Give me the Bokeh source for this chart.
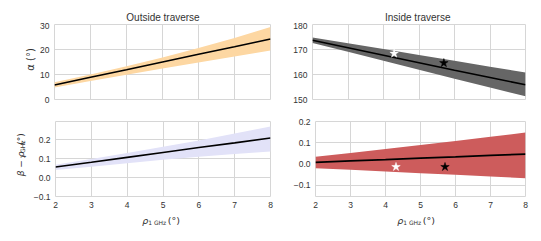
import math
from bokeh.plotting import figure
from bokeh.layouts import column, row
from bokeh.models import Range1d, FixedTicker, Label
from bokeh.embed import file_html
from bokeh.resources import INLINE

# ---------------- data ----------------
rho = [2, 3, 4, 5, 6, 7, 8]
xticks = [2, 3, 4, 5, 6, 7, 8]

# Outside traverse: alpha
out_alpha = [5.8, 8.9, 11.9, 15.0, 18.1, 21.1, 24.2]
out_alpha_hi = [6.9, 10.0, 13.3, 16.8, 20.6, 24.6, 29.0]
out_alpha_lo = [4.8, 7.4, 9.9, 12.4, 14.8, 17.2, 19.6]

# Outside traverse: beta - rho
out_beta = [0.056, 0.081, 0.107, 0.133, 0.159, 0.184, 0.210]
out_beta_hi = [0.068, 0.098, 0.130, 0.163, 0.197, 0.233, 0.270]
out_beta_lo = [0.040, 0.058, 0.076, 0.094, 0.111, 0.125, 0.138]

# Inside traverse: alpha
in_alpha = [173.7, 170.7, 167.7, 164.7, 161.7, 158.8, 155.9]
in_alpha_hi = [174.8, 172.5, 170.2, 167.8, 165.5, 163.1, 160.8]
in_alpha_lo = [172.6, 169.1, 165.5, 161.9, 158.3, 154.8, 151.3]

# Inside traverse: beta - rho
in_beta = [0.008, 0.015, 0.021, 0.028, 0.034, 0.041, 0.047]
in_beta_hi = [0.034, 0.052, 0.071, 0.090, 0.109, 0.128, 0.148]
in_beta_lo = [-0.019, -0.027, -0.035, -0.043, -0.050, -0.058, -0.066]

# stars (inside traverse)
star_rho = [4.3, 5.7]
star_alpha = [168.4, 164.6]
star_beta = [-0.013, -0.013]
star_colors = ["white", "black"]

yticks_out_alpha = [0, 10, 20, 30]
yticks_in_alpha = [150, 160, 170, 180]
yticks_beta = [-0.1, 0.0, 0.1, 0.2]

titles = ["Outside traverse", "Inside traverse"]

TICK_FONT = "Liberation Sans"
TXT = "#333333"
GRID = "#d6d6d6"


def fmt_int(v):
    return ("%d" % v).replace("-", "\u2212")


def fmt_dec(v):
    return ("%.1f" % v).replace("-", "\u2212")


def make_fig(w, h, bl, br, bt, bb, xr, yr, yt, yfmt, show_x):
    p = figure(width=w, height=h, output_backend="svg", toolbar_location=None,
               x_range=Range1d(*xr), y_range=Range1d(*yr),
               min_border_left=bl, min_border_right=br,
               min_border_top=bt, min_border_bottom=bb)
    p.background_fill_color = "white"
    p.border_fill_color = "white"
    p.outline_line_color = GRID
    p.outline_line_width = 1
    for ax in (p.xaxis[0], p.yaxis[0]):
        ax.axis_line_color = None
        ax.major_tick_line_color = None
        ax.minor_tick_line_color = None
        ax.major_tick_in = 0
        ax.major_tick_out = 0
        ax.major_label_text_font = TICK_FONT
        ax.major_label_text_font_size = "8.5px"
        ax.major_label_text_color = TXT
        ax.major_label_standoff = 5
    p.xaxis[0].ticker = FixedTicker(ticks=xticks)
    p.xaxis[0].major_label_overrides = {t: str(t) for t in xticks}
    p.yaxis[0].ticker = FixedTicker(ticks=yt)
    p.yaxis[0].major_label_overrides = {t: yfmt(t) for t in yt}
    p.xgrid[0].ticker = FixedTicker(ticks=xticks)
    p.ygrid[0].ticker = FixedTicker(ticks=yt)
    for g in (p.xgrid[0], p.ygrid[0]):
        g.grid_line_color = GRID
        g.grid_line_width = 1
    if not show_x:
        p.xaxis.visible = False
    return p


def strip(w, h):
    # a bare canvas whose data coordinates equal its pixels (origin top-left)
    s = figure(width=w, height=h, output_backend="svg", toolbar_location=None,
               x_range=Range1d(0, w), y_range=Range1d(h, 0),
               x_axis_location=None, y_axis_location=None,
               min_border=0, min_border_left=0, min_border_right=0,
               min_border_top=0, min_border_bottom=0)
    s.outline_line_color = None
    s.background_fill_color = "white"
    s.border_fill_color = "white"
    s.grid.visible = False
    return s


def lab(p, x, y, text, size="10px", angle=0.0, align="left", baseline="middle",
        font="DejaVu Sans", style="normal"):
    p.add_layout(Label(x=x, y=y, text=text,
                       angle=angle, text_align=align, text_baseline=baseline,
                       text_font_size=size, text_font=font, text_font_style=style,
                       text_color=TXT))


# title strip
top = strip(541, 22)
lab(top, 162.5, 16.5, titles[0], size="10px", align="center", font="Liberation Sans")
lab(top, 417.2, 16.5, titles[1], size="10px", align="center", font="Liberation Sans")

# y-label strips
yl1 = strip(36, 88)
lab(yl1, 30, 41, "\u03b1 (\u00b0)", size="10px", angle=math.pi / 2, align="center")

yl3 = strip(30, 102)
lab(yl3, 20, 74.5, "\u03b2 \u2212 \u03c1", size="9px", angle=math.pi / 2, style="italic")
lab(yl3, 22.3, 50.5, "1 GHz", size="6px", angle=math.pi / 2)
lab(yl3, 20, 31.5, "(\u00b0)", size="9px", angle=math.pi / 2)

# x-label strip
bot = strip(541, 29)
for x0 in (141.7, 396.7):
    lab(bot, x0, 8, "\u03c1", size="9.5px", style="italic")
    lab(bot, x0 + 6.0, 9.5, "1 GHz", size="6px")
    lab(bot, x0 + 25.6, 8, "(\u00b0)", size="9.5px")

# top-left
p1 = make_fig(254, 88, 18, 20, 2, 11, (2, 8), (0, 30), yticks_out_alpha, fmt_int, False)
p1.varea(x=rho, y1=out_alpha_lo, y2=out_alpha_hi, fill_color="#fdd7a2", fill_alpha=1.0)
p1.line(rho, out_alpha, line_color="black", line_width=1.6)

# top-right
p2 = make_fig(251, 88, 19, 16, 2, 11, (2, 8), (150, 180), yticks_in_alpha, fmt_int, False)
p2.varea(x=rho, y1=in_alpha_lo, y2=in_alpha_hi, fill_color="#666666", fill_alpha=1.0)
p2.line(rho, in_alpha, line_color="black", line_width=1.6)
p2.scatter(star_rho, star_alpha, marker="star", size=9, fill_color=star_colors,
           line_color=star_colors, line_width=0.5)

# bottom-left
p3 = make_fig(260, 102, 24, 20, 11, 16, (2, 8), (-0.1, 0.297), yticks_beta, fmt_dec, True)
p3.varea(x=rho, y1=out_beta_lo, y2=out_beta_hi, fill_color="#e2e2f8", fill_alpha=1.0)
p3.line(rho, out_beta, line_color="black", line_width=1.6)

# bottom-right
p4 = make_fig(251, 102, 19, 16, 11, 16, (2, 8), (-0.152, 0.2), yticks_beta, fmt_dec, True)
p4.varea(x=rho, y1=in_beta_lo, y2=in_beta_hi, fill_color="#cd5c5c", fill_alpha=1.0)
p4.line(rho, in_beta, line_color="black", line_width=1.6)
p4.scatter(star_rho, star_beta, marker="star", size=9, fill_color=star_colors,
           line_color=star_colors, line_width=0.5)

layout = column(top, row(yl1, p1, p2), row(yl3, p3, p4), bot)

open("out.html", "w").write(file_html(layout, INLINE))
